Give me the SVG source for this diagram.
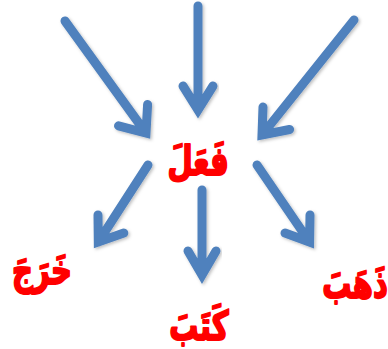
<svg xmlns="http://www.w3.org/2000/svg" width="388" height="349" viewBox="0 0 388 349">
<defs>
<style>
.arr{fill:none;stroke:#4F81BD;stroke-width:9;stroke-linecap:round;stroke-linejoin:miter;filter:url(#sh)}
.lbl{font-family:"DejaVu Sans","Noto Sans",sans-serif;font-weight:bold;fill:#FF0000;stroke:#FF0000;stroke-width:1.5;stroke-linejoin:round;font-size:29px;text-anchor:middle}
</style>
<filter id="sh" x="-20%" y="-20%" width="140%" height="140%">
<feDropShadow dx="1.5" dy="1.5" stdDeviation="1.5" flood-color="#000" flood-opacity="0.25"/>
</filter>
</defs>
<rect width="388" height="349" fill="#fff"/>
<g id="connectors">
<path class="arr" d="M65,21 L146,133 M118.5,125.8 L146,133 L147.6,104.4"/>
<path class="arr" d="M198,6 L198,110 M183,86 L198,110 L213,86"/>
<path class="arr" d="M354,20 L262,135 M289.6,129.5 L262,135 L263,107"/>
<path class="arr" d="M148,165 L98.3,242 M123.8,233 L98.3,242 L98,215"/>
<path class="arr" d="M202,190 L202,275 M188,251 L202,275 L216,251"/>
<path class="arr" d="M257,165 L309.6,242 M285,233 L309.6,242 L310,215"/>
</g>
<g id="n-center"><text class="lbl" transform="translate(198,175) scale(1,1.4)">فَعَلَ</text></g>
<g id="n-left"><text class="lbl" transform="translate(42,284) scale(1,1.4)">خَرَجَ</text></g>
<g id="n-bottom"><text class="lbl" transform="translate(199,340) scale(1,1.4)">كَتَبَ</text></g>
<g id="n-right"><text class="lbl" transform="translate(355,298) scale(1,1.4)">ذَهَبَ</text></g>
</svg>
